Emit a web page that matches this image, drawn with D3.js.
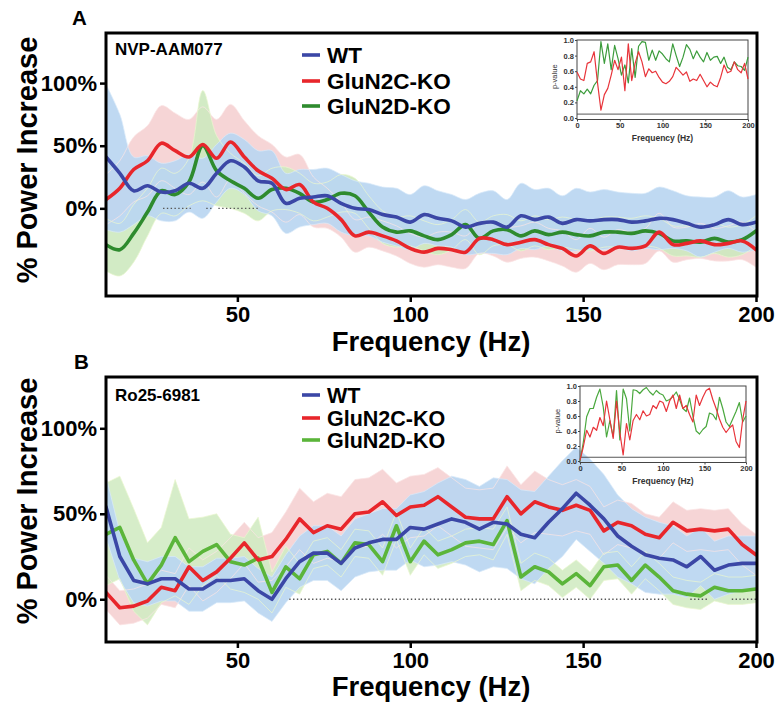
<!DOCTYPE html>
<html>
<head>
<meta charset="utf-8">
<script src="https://cdn.jsdelivr.net/npm/d3@7"></script>
<style>
  body { margin: 0; background: #fff; }
  svg { display: block; }
  text { font-family: "Liberation Sans", Arial, sans-serif; }
</style>
</head>
<body>
<svg id="fig" width="779" height="702"></svg>
<script>
// Frequency grids (Hz): spectra are sampled every 4 Hz, p-values from 0 Hz
const freq = d3.range(12, 201, 4);
const pFreq = d3.range(0, 201, 4);

// ---- Panel A: NVP-AAM077, % power increase (mean and SEM) ----
const wtA = [41,28,14,18,13,14,20,16,28,38,33,22,20,4,8,9,10,4,0,-1,-5,-7,-11,-5,-8,-10,-15,-12,-11,-15,-6,-9,-7,-12,-9,-10,-9,-9,-11,-10,-8,-9,-12,-15,-13,-9,-13,-11];
const wtSemA = [58,47,27,24,23,24,23,24,23,22,22,24,26,24,23,22,22,23,22,21,22,23,22,23,22,21,22,24,25,22,26,24,23,22,25,23,24,22,23,22,25,23,22,24,22,23,22,22];
const n2cA = [7,16,31,38,52,46,41,51,40,53,41,30,24,15,19,5,0,-9,-22,-19,-22,-26,-32,-35,-32,-33,-35,-24,-25,-29,-27,-25,-29,-32,-38,-30,-36,-31,-32,-30,-19,-29,-28,-26,-29,-28,-26,-33];
const n2cSemA = [20,22,26,28,30,30,30,30,31,30,29,28,27,26,24,20,16,14,13,12,12,12,12,12,13,14,13,12,13,14,13,14,13,14,13,14,13,14,13,14,15,14,13,14,13,14,15,14];
const n2dA = [-29,-33,-20,-3,14,11,21,50,30,22,16,8,15,16,12,5,7,12,10,-3,-15,-19,-18,-22,-25,-21,-13,-24,-18,-17,-22,-18,-21,-19,-21,-22,-19,-19,-20,-18,-20,-26,-26,-27,-24,-27,-25,-18];
const n2dSemA = [21,21,23,19,18,17,19,44,28,22,20,18,17,17,16,15,14,15,14,13,13,12,12,12,12,12,12,13,12,12,12,12,12,12,12,12,12,12,12,12,12,12,12,12,12,12,12,12];
// frequency ranges marked as significant on the 0% line
const sigA = [[28.5, 36.5], [41, 43], [44.5, 56]];
// p-values (WT vs knockout)
const pN2cA = [.59,.50,.48,.70,.72,.85,.45,.10,.30,.38,.55,.74,.62,.78,.35,.95,.48,.70,.85,.72,.53,.63,.58,.60,.52,.46,.44,.47,.53,.65,.60,.55,.59,.47,.50,.48,.56,.48,.40,.46,.42,.40,.52,.68,.58,.60,.72,.62,.58,.70,.50];
const pN2dA = [.22,.35,.31,.37,.31,.42,.48,.98,.70,.95,.62,.93,.76,.55,.68,.45,.89,.52,.92,.98,.97,.74,.87,.74,.86,.82,.76,.72,.95,.80,.66,.78,.94,.88,.76,.86,.78,.72,.84,.74,.78,.79,.70,.78,.65,.62,.72,.67,.66,.61,.78];

// ---- Panel B: Ro25-6981 ----
const wtB = [54,25,11,9,12,12,6,6,11,11,12,5,0,12,22,27,27,21,30,33,35,35,42,41,44,47,45,41,45,44,38,36,45,53,62,55,47,37,31,26,24,23,19,25,17,20,21,21];
const wtSemB = [18,14,13,13,13,13,13,13,13,13,13,13,13,14,15,16,16,16,17,17,18,18,19,22,24,25,25,25,26,26,26,27,27,28,27,27,26,24,22,22,21,20,18,17,17,17,16,16];
const n2cB = [4,-5,-4,-1,7,5,19,11,16,24,33,23,25,35,47,39,43,41,50,51,57,49,54,55,60,54,48,47,47,60,50,57,54,52,55,52,40,45,43,38,36,45,40,41,40,41,32,26];
const n2cSemB = [10,10,10,10,10,10,11,12,12,12,12,13,14,16,18,18,19,19,20,20,19,19,18,18,17,17,17,17,18,18,17,18,16,15,15,14,14,13,13,12,12,12,12,12,12,12,12,12];
const n2dB = [38,42,23,9,20,36,22,28,32,22,20,24,4,19,12,26,28,21,33,32,22,43,22,34,26,29,33,34,32,46,13,19,16,9,15,8,19,20,11,20,13,5,3,2,7,5,5,6];
const n2dSemB = [30,30,30,24,22,34,25,20,18,16,16,24,12,12,9,8,8,8,8,8,8,8,8,8,8,8,8,8,9,8,8,8,8,8,8,8,8,8,8,8,8,8,8,8,8,8,8,8];
const sigB = [[65, 174], [181, 186], [193, 200]];
const pN2cB = [.01,.19,.41,.32,.45,.41,.58,.47,.80,.55,.30,.80,.38,.08,.50,.28,.54,.62,.55,.67,.60,.62,.74,.70,.80,.78,.66,.80,.88,.70,.88,.70,.74,.62,.52,.88,.74,.85,.94,.97,.82,.70,.56,.45,.38,.44,.48,.26,.18,.55,.80];
const pN2dB = [.00,.25,.59,.70,.70,.85,.96,.72,.32,.54,.32,.94,.28,.96,.83,.40,.95,.94,.90,.95,.98,.92,.88,.94,.90,.88,.80,.82,.86,.92,.82,.70,.66,.84,.60,.40,.36,.42,.46,.64,.62,.55,.85,.70,.52,.46,.56,.66,.78,.52,.60];

// Labels and ticks
const groups = ["WT", "GluN2C-KO", "GluN2D-KO"];
const yTicks = [0, 50, 100];
const xTicks = [50, 100, 150, 200];
const pTicks = [0, 0.2, 0.4, 0.6, 0.8, 1.0];
const pFreqTicks = [0, 50, 100, 150, 200];

const svg = d3.select("#fig");
const FONT = "'Liberation Sans', Arial, sans-serif";

function drawPanel(o) {
  const x = d3.scaleLinear().domain([12, 200]).range([o.left, o.right]);
  const y = d3.scaleLinear().domain(o.yDomain).range([o.bottom, o.top]);
  const g = svg.append("g");

  const clipId = "clip" + o.letter;
  svg.append("defs").append("clipPath").attr("id", clipId)
    .append("rect").attr("x", o.left).attr("y", o.top)
    .attr("width", o.frameRight - o.left).attr("height", o.bottom - o.top);

  const plot = g.append("g").attr("clip-path", `url(#${clipId})`);
  const curve = o.smooth ? d3.curveCatmullRom.alpha(0.5) : d3.curveLinear;

  const series = [
    { mean: o.wt, sem: o.wtSem, line: "#3b47a6", band: "#bad6f1", edge: "#d9eaf9", bandOpacity: 0.92 },
    { mean: o.n2c, sem: o.n2cSem, line: "#e8262b", band: "#f5d0d2", edge: "#fbe4e4", bandOpacity: 0.9 },
    { mean: o.n2d, sem: o.n2dSem, line: o.green, band: o.greenBand, edge: "#eaf6cf", bandOpacity: 0.9 }
  ];

  const area = (s) => d3.area().curve(curve)
    .x((d, i) => x(freq[i]))
    .y0((d, i) => y(s.mean[i] - s.sem[i]))
    .y1((d, i) => y(s.mean[i] + s.sem[i]));

  // shaded SEM bands: knockouts underneath, WT on top
  [series[1], series[2], series[0]].forEach(s => {
    plot.append("path").datum(s.mean).attr("d", area(s))
      .attr("fill", s.band).attr("fill-opacity", s.bandOpacity).attr("stroke", "none");
  });
  // faint band outlines
  series.forEach(s => {
    ["lo", "hi"].forEach(k => {
      const edge = d3.line().curve(curve)
        .x((d, i) => x(freq[i]))
        .y((d, i) => y(k === "hi" ? s.mean[i] + s.sem[i] : s.mean[i] - s.sem[i]));
      plot.append("path").datum(s.mean).attr("d", edge)
        .attr("fill", "none").attr("stroke", s.edge).attr("stroke-width", 0.9).attr("stroke-opacity", 0.8);
    });
  });

  // significance marks on the 0% level
  o.sig.forEach(r => {
    plot.append("line")
      .attr("x1", x(r[0])).attr("x2", x(r[1]))
      .attr("y1", y(0)).attr("y2", y(0))
      .attr("stroke", "#555").attr("stroke-width", 1.3)
      .attr("stroke-dasharray", "1.4,2.4");
  });

  // mean lines
  const line = (arr) => d3.line().curve(curve).x((d, i) => x(freq[i])).y(d => y(d))(arr);
  [series[2], series[1], series[0]].forEach(s => {
    plot.append("path").attr("d", line(s.mean))
      .attr("fill", "none").attr("stroke", s.line)
      .attr("stroke-width", 3.6).attr("stroke-linejoin", "round").attr("stroke-linecap", "round");
  });

  // axes
  const yAxis = d3.axisLeft(y).tickValues(yTicks).tickFormat(d => d + "%").tickSize(6).tickPadding(3);
  const ya = g.append("g").attr("transform", `translate(${o.left},0)`).call(yAxis);
  const xAxis = d3.axisBottom(x).tickValues(xTicks).tickSize(6).tickPadding(4);
  const xa = g.append("g").attr("transform", `translate(0,${o.bottom})`).call(xAxis);
  [ya, xa].forEach(a => {
    a.select(".domain").remove();
    a.selectAll(".tick line").attr("stroke", "#000").attr("stroke-width", 2.5);
    a.selectAll(".tick text").attr("fill", "#000").style("font-family", FONT)
      .style("font-weight", "bold").style("font-size", "22px");
  });

  // frame
  g.append("rect").attr("x", o.left).attr("y", o.top)
    .attr("width", o.frameRight - o.left).attr("height", o.bottom - o.top)
    .attr("fill", "none").attr("stroke", "#000").attr("stroke-width", 3);

  // titles
  g.append("text").attr("x", o.letterX).attr("y", o.letterY)
    .style("font-weight", "bold").style("font-size", "20.5px").text(o.letter);
  g.append("text").attr("x", o.left + 9).attr("y", o.drugY)
    .style("font-weight", "bold").style("font-size", "17px").text(o.drug);
  g.append("text").attr("transform", `translate(37,${o.yLabelY}) rotate(-90)`)
    .attr("text-anchor", "middle").style("font-weight", "bold").style("font-size", "29px")
    .text("% Power Increase");
  g.append("text").attr("x", 431).attr("y", o.xLabelY).attr("text-anchor", "middle")
    .style("font-weight", "bold").style("font-size", "27.5px").text("Frequency (Hz)");

  // legend
  const legColors = [series[0].line, series[1].line, series[2].line];
  groups.forEach((name, i) => {
    const by = o.legendY[i];
    g.append("line").attr("x1", 302).attr("x2", 320).attr("y1", by - 8).attr("y2", by - 8)
      .attr("stroke", legColors[i]).attr("stroke-width", 3.6);
    g.append("text").attr("x", 327).attr("y", by)
      .style("font-weight", "bold").style("font-size", o.legendSize).text(name);
  });

  // inset: p-values across frequency
  const ix = d3.scaleLinear().domain([0, 200]).range([o.inset.left, o.inset.right]);
  const iy = d3.scaleLinear().domain([0, 1]).range([o.inset.zero, o.inset.top]);
  const ig = g.append("g");
  ig.append("rect").attr("x", o.inset.left).attr("y", o.inset.top)
    .attr("width", o.inset.right - o.inset.left).attr("height", o.inset.bottom - o.inset.top)
    .attr("fill", "none").attr("stroke", "#444").attr("stroke-width", 1);
  ig.append("line").attr("x1", o.inset.left).attr("x2", o.inset.right)
    .attr("y1", iy(0.05)).attr("y2", iy(0.05)).attr("stroke", "#444").attr("stroke-width", 0.9);
  const pLine = d3.line().x((d, i) => ix(pFreq[i])).y(d => iy(d));
  ig.append("path").attr("d", pLine(o.pN2d)).attr("fill", "none")
    .attr("stroke", o.pGreen).attr("stroke-width", 1.2).attr("stroke-linejoin", "round");
  ig.append("path").attr("d", pLine(o.pN2c)).attr("fill", "none")
    .attr("stroke", "#e8343a").attr("stroke-width", 1.2).attr("stroke-linejoin", "round");

  const iya = ig.append("g").attr("transform", `translate(${o.inset.left},0)`)
    .call(d3.axisLeft(iy).tickValues(pTicks).tickFormat(d3.format(".1f")).tickSize(2).tickPadding(1));
  const ixa = ig.append("g").attr("transform", `translate(0,${o.inset.bottom})`)
    .call(d3.axisBottom(ix).tickValues(pFreqTicks).tickSize(2).tickPadding(1));
  [iya, ixa].forEach(a => {
    a.select(".domain").remove();
    a.selectAll(".tick line").attr("stroke", "#444");
    a.selectAll(".tick text").attr("fill", "#333").style("font-family", FONT)
      .style("font-weight", "bold").style("font-size", "7.5px");
  });
  ig.append("text").attr("x", (o.inset.left + o.inset.right) / 2).attr("y", o.inset.bottom + 21)
    .attr("text-anchor", "middle").attr("fill", "#333")
    .style("font-weight", "bold").style("font-size", "8.5px").text("Frequency (Hz)");
  ig.append("text")
    .attr("transform", `translate(${o.inset.left - 20},${(o.inset.top + o.inset.bottom) / 2 - 3}) rotate(-90)`)
    .attr("text-anchor", "middle").attr("fill", "#333")
    .style("font-size", "7.5px").text("p-value");
}

drawPanel({
  letter: "A", letterX: 72, letterY: 25, drug: "NVP-AAM077", drugY: 55,
  left: 106, right: 756, frameRight: 757, top: 33, bottom: 296, yDomain: [-70, 140],
  smooth: true, green: "#2e8b2e", greenBand: "#cde9bf", pGreen: "#3c9c3c",
  wt: wtA, wtSem: wtSemA, n2c: n2cA, n2cSem: n2cSemA, n2d: n2dA, n2dSem: n2dSemA,
  sig: sigA, pN2c: pN2cA, pN2d: pN2dA,
  yLabelY: 160, xLabelY: 351, legendY: [63, 89, 114], legendSize: "22.5px",
  inset: { left: 577, right: 748, top: 40, zero: 118, bottom: 119.5 }
});

drawPanel({
  letter: "B", letterX: 74, letterY: 369, drug: "Ro25-6981", drugY: 401,
  left: 106, right: 756, frameRight: 757, top: 377, bottom: 642, yDomain: [-25, 130],
  smooth: false, green: "#5bb53a", greenBand: "#d2ebc3", pGreen: "#4aa83e",
  wt: wtB, wtSem: wtSemB, n2c: n2cB, n2cSem: n2cSemB, n2d: n2dB, n2dSem: n2dSemB,
  sig: sigB, pN2c: pN2cB, pN2d: pN2dB,
  yLabelY: 501, xLabelY: 696, legendY: [403, 426, 448], legendSize: "21.5px",
  inset: { left: 580, right: 746, top: 386, zero: 461, bottom: 462.5 }
});
</script>
</body>
</html>
